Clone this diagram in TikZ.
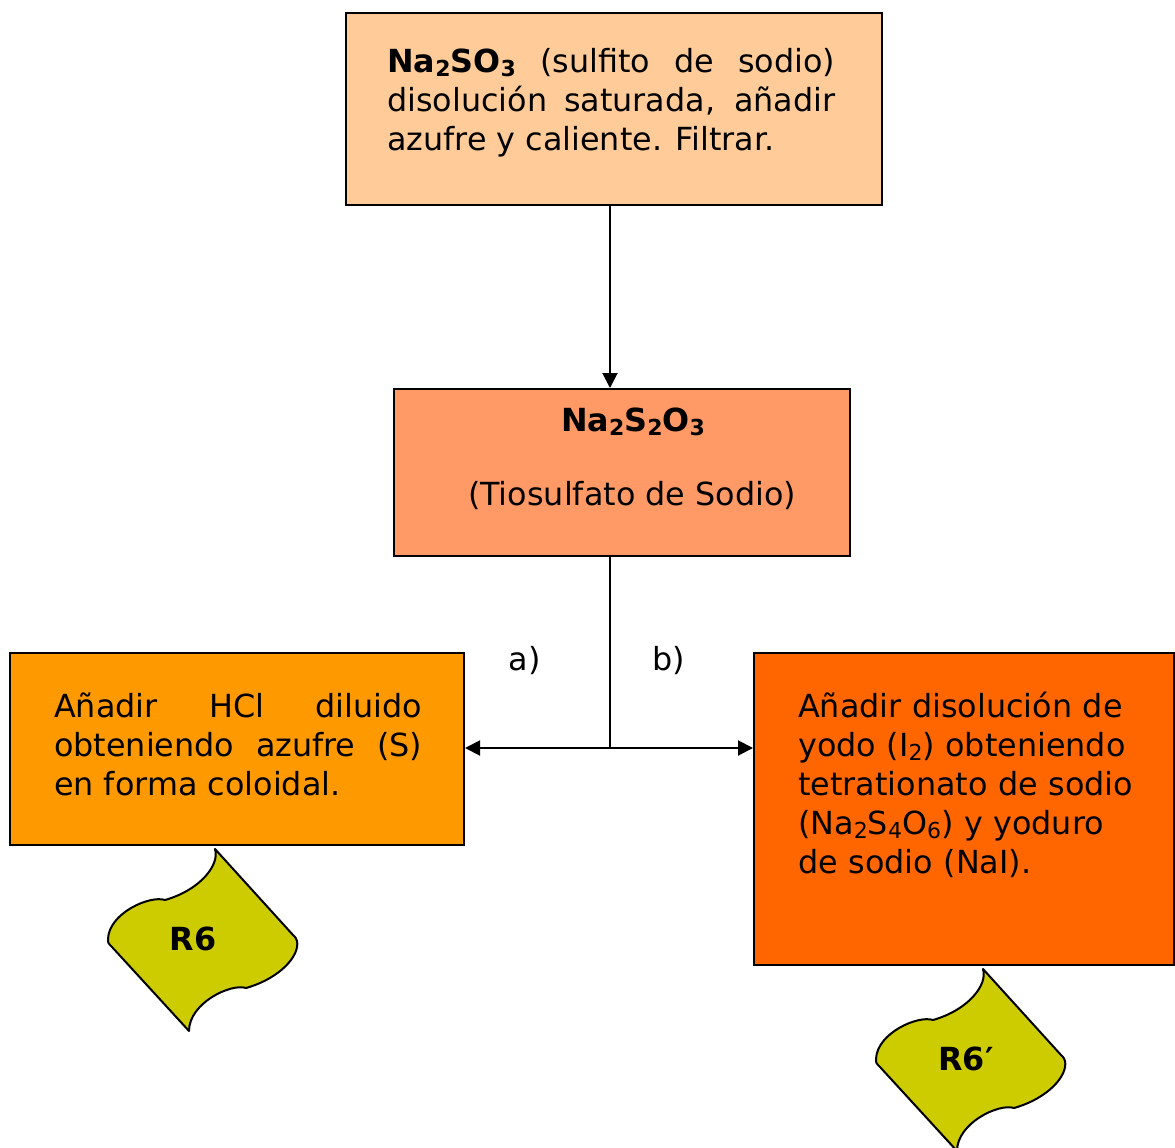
\documentclass[tikz,border=0pt]{standalone}
\usepackage{fontspec}
\setmainfont{DejaVu Sans}
\usetikzlibrary{arrows.meta}
% chemical subscript
\newcommand\chsub[1]{\raisebox{-4.5pt}{\fontsize{22}{22}\selectfont #1}}
% paragraph set-up for the boxed texts
\newcommand\boxpar{\parindent=0pt\relax\hyphenpenalty=10000\relax\rule{0pt}{30pt}}
\definecolor{peach}{HTML}{FFCC99}
\definecolor{salmon}{HTML}{FF9966}
\definecolor{amber}{HTML}{FF9900}
\definecolor{deeporange}{HTML}{FF6600}
\definecolor{tagolive}{HTML}{CCCC00}
\begin{document}
\begin{tikzpicture}[x=1pt,y=-1pt,
  box/.style={draw=black,line width=2pt,rectangle,inner sep=0pt},
  txt/.style={inner sep=0pt,anchor=north west,font=\fontsize{31.8}{39}\selectfont},
  arr/.style={line width=2pt,-{Triangle[length=15pt,width=15pt]}},
  wire/.style={line width=2pt},
  tag/.style={inner sep=0pt,anchor=base,font=\bfseries\fontsize{31.8}{39}\selectfont},
  rtab/.pic={\draw[line width=2pt,fill=tagolive,line join=round]
    (0,0) .. controls (5,16) and (-15,41) .. (-50,51)
    .. controls (-65,46) and (-106,64) .. (-107,90)
    .. controls (-107,94) .. (-103,98)
    -- (-26,182) .. controls (-26,154) and (16,134) .. (31,139)
    .. controls (66,129) and (85,106) .. (82,92)
    .. controls (81,89) .. (78,86) -- cycle;}
]
\useasboundingbox (0,0) rectangle (1175,1148);

% boxes
\node[box,fill=peach,minimum width=536pt,minimum height=192pt] (top) at (614,109) {};
\node[box,fill=salmon,minimum width=456pt,minimum height=167pt] (mid) at (622,472.5) {};
\node[box,fill=amber,minimum width=454pt,minimum height=192pt] (left) at (237,749) {};
\node[box,fill=deeporange,minimum width=420pt,minimum height=312pt] (right) at (964,809) {};

% box texts
\node[txt,text width=448pt,align=justify] (toptext) at (387,42)
  {\boxpar\textbf{Na\chsub{2}SO\chsub{3}} (sulfito de sodio)\linebreak
   disolución saturada, añadir\linebreak azufre y caliente. Filtrar.};
\node[tag] (midformula) at (633,431) {Na\chsub{2}S\chsub{2}O\chsub{3}};
\node[txt,anchor=base] (midname) at (632,505) {(Tiosulfato de Sodio)};
\node[txt,text width=368pt,align=justify] (lefttext) at (54,687)
  {\boxpar Añadir HCl diluido\linebreak obteniendo azufre (S)\linebreak
   en forma coloidal.};
\node[txt,text width=370pt,align=left] (righttext) at (798,687)
  {\boxpar Añadir disolución de\\ yodo (I\chsub{2}) obteniendo\\
   tetrationato de sodio\\ (Na\chsub{2}S\chsub{4}O\chsub{6}) y yoduro\\ de sodio (NaI).};

% branch labels
\node[txt,anchor=base] (labela) at (524.5,670) {a)};
\node[txt,anchor=base] (labelb) at (669,670) {b)};

% connectors
\coordinate (split) at (610,748);
\draw[arr] (top.south -| split) -- (mid.north -| split);
\draw[wire] (mid.south -| split) -- (split);
\draw[arr] (split) -- (left.east |- split);
\draw[arr] (split) -- (right.west |- split);

% residue tags
\pic at (215,849) {rtab};
\pic at (983,969) {rtab};
\node[tag] (rsix) at (193,950) {R6};
\node[tag] (rsixp) at (966,1070) {R6′};
\end{tikzpicture}
\end{document}
